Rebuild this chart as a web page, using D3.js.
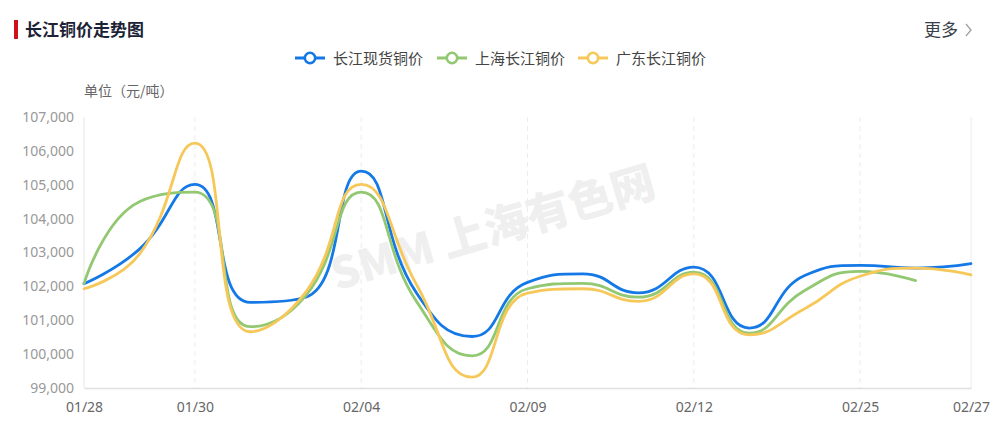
<!DOCTYPE html>
<html>
<head>
<meta charset="utf-8">
<script src="https://cdn.jsdelivr.net/npm/d3@7/dist/d3.min.js"></script>
<style>
  html, body { margin: 0; padding: 0; background: #fff; }
  svg { display: block; font-family: "Noto Sans CJK SC", "Noto Sans", sans-serif; }
</style>
</head>
<body>
<svg id="chart" width="994" height="428"></svg>
<script>
// Trading days shown on the category axis
const dates = ["01/28","01/29","01/30","02/02","02/03","02/04","02/05","02/06","02/09",
               "02/10","02/11","02/12","02/13","02/24","02/25","02/26","02/27"];
const dateLabels = ["01/28","01/30","02/04","02/09","02/12","02/25","02/27"];

// Prices in 元/吨
const spotChangjiang = [102080,103100,105010,101530,101680,105400,101800,100520,102120,
                        102370,101810,102570,100770,102320,102620,102540,102670];
const shanghaiChangjiang = [102080,104500,104780,100810,101730,104780,101550,99950,101930,
                            102090,101680,102420,100620,101880,102440,102170,null];
const guangdongChangjiang = [101930,102950,106230,100660,101830,105010,102050,99320,101800,
                             101930,101560,102370,100570,101340,102300,102540,102340];

const yTicks = [99000,100000,101000,102000,103000,104000,105000,106000,107000];

const seriesList = [
  { name: "长江现货铜价", values: spotChangjiang, color: "#1479e6" },
  { name: "上海长江铜价", values: shanghaiChangjiang, color: "#93c873" },
  { name: "广东长江铜价", values: guangdongChangjiang, color: "#f6c85a" }
];

const svg = d3.select("#chart");
const plot = { left: 84, right: 971, top: 117, bottom: 388 };

const x = d3.scalePoint().domain(dates).range([plot.left, plot.right]);
const y = d3.scaleLinear().domain([99000, 107000]).range([plot.bottom, plot.top]);

// Bezier smoothing with control points clamped between neighbouring points,
// so peaks and troughs never overshoot their data values.
function ClampedSmooth(context, smooth) { this._context = context; this._smooth = smooth; }
ClampedSmooth.prototype = {
  areaStart() { this._line = 0; },
  areaEnd() { this._line = NaN; },
  lineStart() { this._pts = []; },
  point(px, py) { this._pts.push([+px, +py]); },
  lineEnd() {
    const p = this._pts, n = p.length, ctx = this._context, s = this._smooth;
    if (!n) return;
    const clamp = (v, a, b) => Math.max(Math.min(v, Math.max(a, b)), Math.min(a, b));
    ctx.moveTo(p[0][0], p[0][1]);
    let cpx0 = p[0][0], cpy0 = p[0][1];
    for (let i = 1; i < n; i++) {
      const [prevX, prevY] = p[i - 1];
      const [cx, cy] = p[i];
      let cpx1, cpy1, nextCpx0 = cx, nextCpy0 = cy;
      if (i === n - 1) {
        cpx1 = cx; cpy1 = cy;
      } else {
        const [nx, ny] = p[i + 1];
        let vx = nx - prevX, vy = ny - prevY;
        const lenPrev = Math.hypot(cx - prevX, cy - prevY);
        const lenNext = Math.hypot(nx - cx, ny - cy);
        const ratio = lenNext / (lenNext + lenPrev);
        nextCpx0 = clamp(cx + vx * s * ratio, nx, cx);
        nextCpy0 = clamp(cy + vy * s * ratio, ny, cy);
        vx = nextCpx0 - cx; vy = nextCpy0 - cy;
        cpx1 = clamp(cx - vx * lenPrev / lenNext, prevX, cx);
        cpy1 = clamp(cy - vy * lenPrev / lenNext, prevY, cy);
        vx = cx - cpx1; vy = cy - cpy1;
        nextCpx0 = cx + vx * lenNext / lenPrev;
        nextCpy0 = cy + vy * lenNext / lenPrev;
      }
      ctx.bezierCurveTo(cpx0, cpy0, cpx1, cpy1, cx, cy);
      cpx0 = nextCpx0; cpy0 = nextCpy0;
    }
  }
};
const smoothCurve = ctx => new ClampedSmooth(ctx, 0.5);

// Header
svg.append("rect").attr("x", 14).attr("y", 20).attr("width", 4).attr("height", 19).attr("fill", "#d0111b");
svg.append("text").attr("x", 25).attr("y", 36).text("长江铜价走势图")
  .attr("font-size", 17).attr("font-weight", 700).attr("fill", "#1c2235");
svg.append("text").attr("x", 924).attr("y", 36).text("更多")
  .attr("font-size", 17).attr("fill", "#3a3f4b");
svg.append("path").attr("d", "M966,24 L971,30 L966,36")
  .attr("fill", "none").attr("stroke", "#a0a0a0").attr("stroke-width", 1.3);

// Legend
const legendX = [310, 452, 593];
const legend = svg.append("g");
seriesList.forEach((s, i) => {
  const g = legend.append("g").attr("transform", `translate(${legendX[i]},58)`);
  g.append("line").attr("x1", -15).attr("x2", 15).attr("stroke", s.color).attr("stroke-width", 3);
  g.append("circle").attr("r", 5.2).attr("fill", "#fff").attr("stroke", s.color).attr("stroke-width", 2.6);
  g.append("text").attr("x", 23).attr("y", 5.5).text(s.name)
    .attr("font-size", 15).attr("fill", "#444");
});

// Unit label
svg.append("text").attr("x", 84).attr("y", 96).text("单位（元/吨）")
  .attr("font-size", 14).attr("fill", "#666");

// Watermark
svg.append("text")
  .attr("transform", "translate(492,225) rotate(-16.5)")
  .attr("text-anchor", "middle").attr("dominant-baseline", "central")
  .attr("font-size", 44).attr("font-weight", 900).attr("fill", "#efefef")
  .text("SMM 上海有色网");

// Vertical split lines at labelled dates
svg.append("g").selectAll("line")
  .data(dateLabels.slice(1))
  .join("line")
  .attr("x1", d => x(d)).attr("x2", d => x(d))
  .attr("y1", plot.top).attr("y2", plot.bottom)
  .attr("stroke", "#ececec").attr("stroke-width", 1)
  .attr("stroke-dasharray", d => d === dates[dates.length - 1] ? null : "5,4");

// Axes
const yAxis = svg.append("g").attr("transform", `translate(${plot.left},0)`)
  .call(d3.axisLeft(y).tickValues(yTicks).tickFormat(d3.format(",")).tickSize(0).tickPadding(10));
yAxis.select(".domain").attr("stroke", "#e6e6e6").attr("d", `M0,${plot.top}V${plot.bottom}`);
yAxis.selectAll("text").attr("font-size", 14).attr("fill", "#999").attr("font-family", "\"Noto Sans\", sans-serif");

const xAxis = svg.append("g").attr("transform", `translate(0,${plot.bottom})`)
  .call(d3.axisBottom(x).tickValues(dateLabels).tickSize(0).tickPadding(14));
xAxis.select(".domain").attr("stroke", "#e0e0e0").attr("stroke-width", 1.5);
xAxis.selectAll("text").attr("font-size", 14).attr("fill", "#666").attr("font-family", "\"Noto Sans\", sans-serif");

// Price lines
const line = d3.line()
  .defined(d => d.v != null)
  .x(d => x(d.date))
  .y(d => y(d.v))
  .curve(smoothCurve);

svg.append("g").selectAll("path")
  .data(seriesList)
  .join("path")
  .attr("d", s => line(s.values.map((v, i) => ({ date: dates[i], v }))))
  .attr("fill", "none")
  .attr("stroke", s => s.color)
  .attr("stroke-width", 2.8)
  .attr("stroke-linejoin", "round")
  .attr("stroke-linecap", "round");
</script>
</body>
</html>
